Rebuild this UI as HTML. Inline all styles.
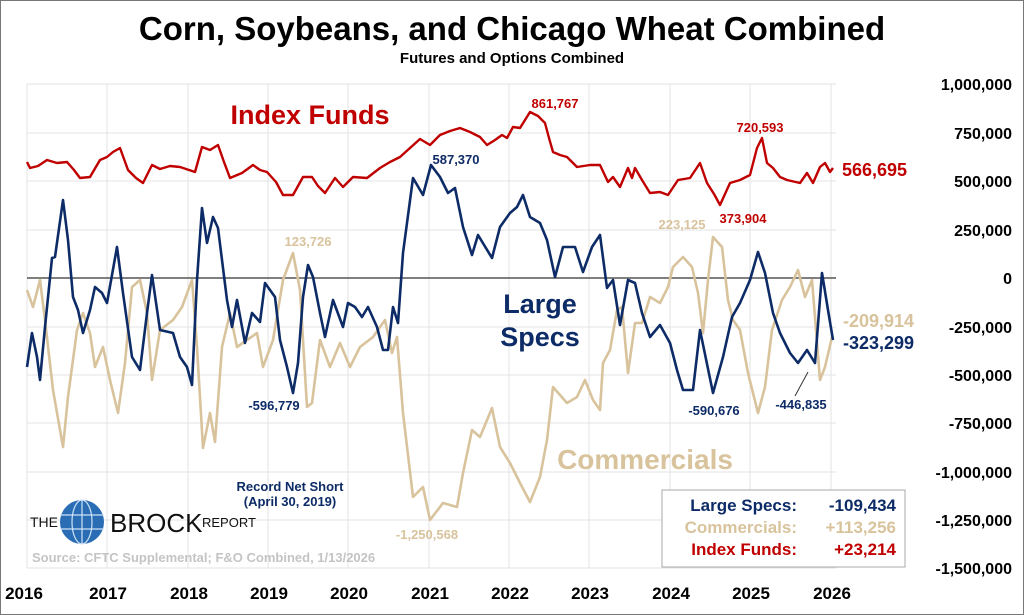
<!DOCTYPE html>
<html><head><meta charset="utf-8"><style>
html,body{margin:0;padding:0;background:#fff;}
svg{display:block;font-family:"Liberation Sans",Arial,sans-serif;}
</style></head><body>
<svg width="1024" height="615" viewBox="0 0 1024 615" xmlns="http://www.w3.org/2000/svg">
<rect x="0.5" y="0.5" width="1023" height="614" fill="#fff" stroke="#777" stroke-width="1"/>
<g stroke="#e3e3e3" stroke-width="1">
<line x1="27" y1="84" x2="836" y2="84"/><line x1="27" y1="133" x2="836" y2="133"/><line x1="27" y1="181" x2="836" y2="181"/><line x1="27" y1="230" x2="836" y2="230"/><line x1="27" y1="327" x2="836" y2="327"/><line x1="27" y1="375" x2="836" y2="375"/><line x1="27" y1="423" x2="836" y2="423"/><line x1="27" y1="472" x2="836" y2="472"/><line x1="27" y1="520" x2="836" y2="520"/><line x1="27" y1="568" x2="836" y2="568"/>
<line x1="27" y1="84" x2="27" y2="568"/><line x1="107" y1="84" x2="107" y2="568"/><line x1="188" y1="84" x2="188" y2="568"/><line x1="268" y1="84" x2="268" y2="568"/><line x1="348" y1="84" x2="348" y2="568"/><line x1="429" y1="84" x2="429" y2="568"/><line x1="509" y1="84" x2="509" y2="568"/><line x1="589" y1="84" x2="589" y2="568"/><line x1="670" y1="84" x2="670" y2="568"/><line x1="750" y1="84" x2="750" y2="568"/><line x1="831" y1="84" x2="831" y2="568"/>
</g>
<line x1="27" y1="278" x2="836" y2="278" stroke="#555" stroke-width="1.5"/>
<text x="512" y="40" text-anchor="middle" font-size="33" font-weight="bold" fill="#000">Corn, Soybeans, and Chicago Wheat Combined</text>
<text x="512" y="63" text-anchor="middle" font-size="15" font-weight="bold" fill="#000">Futures and Options Combined</text>
<text x="310" y="124" text-anchor="middle" font-size="27" font-weight="bold" fill="#c00000">Index Funds</text>
<text x="540" y="313" text-anchor="middle" font-size="27" font-weight="bold" fill="#0d2b66">Large</text>
<text x="540" y="346" text-anchor="middle" font-size="27" font-weight="bold" fill="#0d2b66">Specs</text>
<text x="645" y="469" text-anchor="middle" font-size="28" font-weight="bold" fill="#d8c39c">Commercials</text>
<!-- Commercials -->
<polyline fill="none" stroke="#d8c39c" stroke-width="2.6" stroke-linejoin="round" points="27,290 33,307 40,280 45,320 53,390 63,447 68,397 77,330 83,313 90,333 95,367 103,347 110,380 118,413 125,363 132,287 140,280 147,313 152,380 160,330 173,320 182,307 192,280 197,347 203,448 210,413 215,442 222,347 230,313 237,347 247,340 257,333 263,367 273,340 283,280 293,253 300,290 307,407 312,403 320,340 330,367 340,343 350,367 360,347 373,337 385,320 392,353 397,337 403,413 413,497 423,487 430,520 443,503 457,507 463,473 472,430 480,437 492,408 500,447 510,463 520,483 530,502 540,477 547,440 553,387 567,403 577,397 585,380 593,400 600,410 603,363 610,350 617,310 622,307 628,373 635,323 642,323 650,297 660,303 668,287 673,267 683,257 692,267 698,293 703,333 708,280 713,237 722,247 728,300 733,320 740,330 748,373 758,413 765,387 772,330 782,300 790,287 798,270 805,297 812,280 820,380 825,367 832,337"/>
<!-- Index funds -->
<polyline fill="none" stroke="#c00000" stroke-width="2.4" stroke-linejoin="round" points="27,162 30,168 38,166 47,160 57,163 67,162 74,170 80,178 90,177 100,160 107,157 113,152 120,148 128,170 136,178 143,183 152,165 160,169 170,166 180,167 195,172 202,147 210,150 218,145 224,162 230,178 242,173 253,165 260,170 267,172 276,182 283,195 293,195 303,177 312,177 318,186 325,193 335,178 343,187 353,177 367,178 380,168 390,162 400,157 410,148 420,139 430,145 440,135 450,131 460,128 470,132 480,137 487,145 495,140 502,135 507,138 513,127 520,128 525,120 530,112 538,116 545,123 549,138 553,152 560,155 567,157 577,167 590,165 600,165 608,182 613,177 620,187 628,168 632,178 635,168 642,180 650,193 660,192 668,195 678,180 690,178 700,163 707,183 714,194 720,205 730,183 740,180 750,175 757,148 762,138 767,163 773,168 780,177 787,180 800,183 807,173 813,183 820,167 825,163 830,172 833,168"/>
<!-- Large specs -->
<polyline fill="none" stroke="#0d2b66" stroke-width="2.6" stroke-linejoin="round" points="27,367 32,333 37,357 40,380 45,327 52,258 55,257 63,200 68,240 73,297 78,310 83,333 90,310 95,287 102,293 107,303 117,247 123,293 132,357 140,370 147,313 152,275 160,330 173,333 180,357 187,367 192,385 197,280 202,208 207,243 213,217 218,228 227,300 232,327 237,300 245,343 252,313 260,322 265,283 275,297 280,340 287,367 293,393 298,363 303,297 308,265 313,277 320,313 325,337 333,300 343,327 348,303 355,307 362,317 368,307 377,327 383,350 388,350 393,307 398,323 403,253 413,178 423,195 431,165 440,177 448,193 455,188 463,227 472,255 478,235 492,258 500,227 510,213 517,207 523,195 530,217 540,223 547,240 555,277 563,247 575,247 583,272 592,247 600,235 607,288 613,280 620,325 628,280 635,283 642,313 650,337 660,325 670,343 677,370 683,390 693,390 700,330 713,393 723,357 732,317 740,303 750,280 758,252 765,273 773,313 780,333 790,353 798,363 807,350 815,363 822,273 828,310 833,340"/>
<line x1="808" y1="372" x2="795" y2="396" stroke="#333" stroke-width="1"/>
<g font-size="13" font-weight="bold">
<text x="555" y="108" text-anchor="middle" fill="#c00000">861,767</text>
<text x="760" y="132" text-anchor="middle" fill="#c00000">720,593</text>
<text x="743" y="223" text-anchor="middle" fill="#c00000">373,904</text>
<text x="456" y="164" text-anchor="middle" fill="#0d2b66">587,370</text>
<text x="682" y="229" text-anchor="middle" fill="#d8c39c">223,125</text>
<text x="308" y="246" text-anchor="middle" fill="#d8c39c">123,726</text>
<text x="274" y="410" text-anchor="middle" fill="#0d2b66">-596,779</text>
<text x="714" y="415" text-anchor="middle" fill="#0d2b66">-590,676</text>
<text x="801" y="409" text-anchor="middle" fill="#0d2b66">-446,835</text>
<text x="427" y="539" text-anchor="middle" fill="#d8c39c">-1,250,568</text>
<text x="290" y="491" text-anchor="middle" fill="#0d2b66">Record Net Short</text>
<text x="290" y="506" text-anchor="middle" fill="#0d2b66">(April 30, 2019)</text>
</g>
<g font-size="18" font-weight="bold">
<text x="842" y="176" fill="#c00000">566,695</text>
<text x="843" y="327" fill="#d8c39c">-209,914</text>
<text x="843" y="349" fill="#0d2b66">-323,299</text>
</g>
<g font-size="16" font-weight="bold" fill="#000" text-anchor="end">
<text x="1012" y="90">1,000,000</text><text x="1012" y="139">750,000</text><text x="1012" y="187">500,000</text><text x="1012" y="236">250,000</text><text x="1012" y="284">0</text><text x="1012" y="333">-250,000</text><text x="1012" y="381">-500,000</text><text x="1012" y="429">-750,000</text><text x="1012" y="478">-1,000,000</text><text x="1012" y="526">-1,250,000</text><text x="1012" y="574">-1,500,000</text>
</g>
<g font-size="17" font-weight="bold" fill="#000" text-anchor="middle">
<text x="24" y="599">2016</text><text x="108" y="599">2017</text><text x="189" y="599">2018</text><text x="269" y="599">2019</text><text x="349" y="599">2020</text><text x="430" y="599">2021</text><text x="510" y="599">2022</text><text x="590" y="599">2023</text><text x="671" y="599">2024</text><text x="751" y="599">2025</text><text x="832" y="599">2026</text>
</g>
<rect x="662" y="490" width="243" height="77" fill="#fff" stroke="#aaa" stroke-width="1"/>
<g font-size="17" font-weight="bold" text-anchor="end">
<text x="797" y="511" fill="#0d2b66">Large Specs:</text><text x="896" y="511" fill="#0d2b66">-109,434</text>
<text x="797" y="533" fill="#d8c39c">Commercials:</text><text x="896" y="533" fill="#d8c39c">+113,256</text>
<text x="797" y="555" fill="#c00000">Index Funds:</text><text x="896" y="555" fill="#c00000">+23,214</text>
</g>
<text x="30" y="527" font-size="14" fill="#111">THE</text>
<circle cx="82" cy="522" r="22" fill="#2a6db5"/>
<g stroke="#cfe3f7" stroke-width="1.2" fill="none"><ellipse cx="82" cy="522" rx="10" ry="22"/><line x1="60" y1="515" x2="104" y2="515"/><line x1="60" y1="529" x2="104" y2="529"/><line x1="82" y1="500" x2="82" y2="544"/></g>
<text x="110" y="532" font-size="26" fill="#111">BROCK</text>
<text x="202" y="527" font-size="13" fill="#111">REPORT</text>
<text x="32" y="562" font-size="13" font-weight="bold" fill="#c4c4c4">Source: CFTC Supplemental; F&amp;O Combined, 1/13/2026</text>
</svg>
</body></html>
